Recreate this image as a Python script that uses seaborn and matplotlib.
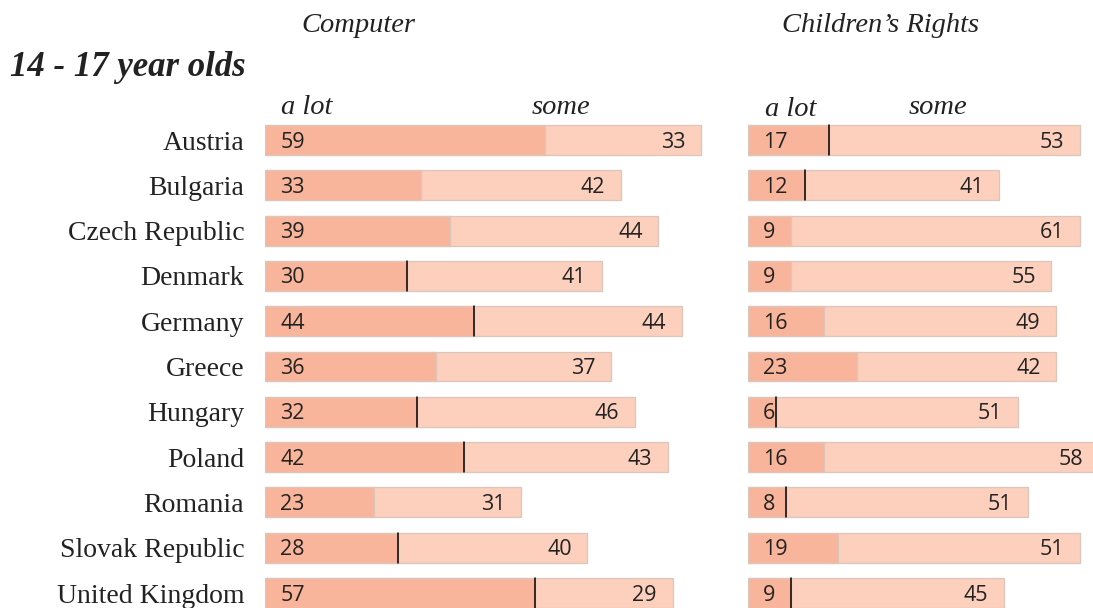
import seaborn as sns
import matplotlib.pyplot as plt
import pandas as pd

countries = ["Austria", "Bulgaria", "Czech Republic", "Denmark", "Germany", "Greece",
             "Hungary", "Poland", "Romania", "Slovak Republic", "United Kingdom"]
computer_alot = [59, 33, 39, 30, 44, 36, 32, 42, 23, 28, 57]
computer_some = [33, 42, 44, 41, 44, 37, 46, 43, 31, 40, 29]
rights_alot = [17, 12, 9, 9, 16, 23, 6, 16, 8, 19, 9]
rights_some = [53, 41, 61, 55, 49, 42, 51, 58, 51, 51, 45]

# rows where the source draws a black divider between the two segments
computer_black_div = ["Denmark", "Germany", "Hungary", "Poland", "Slovak Republic", "United Kingdom"]
rights_black_div = ["Austria", "Bulgaria", "Hungary", "Romania", "United Kingdom"]

DARK = "#F8B59B"
LIGHT = "#FCD0BD"
EDGE = "#DCC6BC"
W, H = 1093, 608
PX_PER_UNIT = 4.74

sns.set_style("white")
plt.rcParams["font.family"] = ["Liberation Serif", "DejaVu Serif"]

fig = plt.figure(figsize=(W / 100, H / 100), dpi=100)


def px_axes(x0, x1, y_top, y_bot):
    return fig.add_axes([x0 / W, 1 - y_bot / H, (x1 - x0) / W, (y_bot - y_top) / H])


def draw_panel(ax, alot, some, black_div, show_labels):
    df = pd.DataFrame({"country": countries, "alot": alot,
                       "total": [a + s for a, s in zip(alot, some)]})
    sns.barplot(data=df, x="total", y="country", color=LIGHT, saturation=1,
                width=0.66, edgecolor=EDGE, linewidth=0.9, ax=ax)
    sns.barplot(data=df, x="alot", y="country", color=DARK, saturation=1,
                width=0.66, edgecolor=EDGE, linewidth=0.9, ax=ax)
    for i, (c, a, s) in enumerate(zip(countries, alot, some)):
        if c in black_div:
            ax.plot([a, a], [i - 0.33, i + 0.33], color="black", lw=1.1)
        ax.text(3.2, i - 0.01, str(a), ha="left", va="center_baseline", fontsize=15.5,
                family="Open Sans", color="#222222")
        ax.text(a + s - 3.3, i - 0.01, str(s), ha="right", va="center_baseline",
                fontsize=15.5, family="Open Sans", color="#222222")
    ax.set_ylim(10.33, -0.508)
    ax.set_xlabel("")
    ax.set_ylabel("")
    ax.set_xticks([])
    ax.tick_params(axis="y", length=0, pad=15)
    if show_labels:
        ax.set_yticks(range(len(countries)))
        ax.set_yticklabels(countries, fontsize=20, color="#222222")
    else:
        ax.set_yticks([])
    sns.despine(ax=ax, left=True, bottom=True)


ax1 = px_axes(265, 725, 117, 608)
ax1.set_xlim(0, 460 / PX_PER_UNIT)
draw_panel(ax1, computer_alot, computer_some, computer_black_div, True)

ax2 = px_axes(748, 1093, 117, 608)
ax2.set_xlim(0, 345 / PX_PER_UNIT)
draw_panel(ax2, rights_alot, rights_some, rights_black_div, False)


def px_text(x, y, s, **kw):
    fig.text(x / W, 1 - y / H, s, va="center", color="#222222", **kw)


px_text(10, 67, "14 - 17 year olds", ha="left", fontsize=25,
        fontweight="bold", fontstyle="italic")
px_text(358, 25, "Computer", ha="center", fontsize=20.5, fontstyle="italic")
px_text(881, 25, "Children\u2019s Rights", ha="center", fontsize=20.5, fontstyle="italic")
px_text(307, 107, "a lot", ha="center", fontsize=20.5, fontstyle="italic")
px_text(561, 107, "some", ha="center", fontsize=20.5, fontstyle="italic")
px_text(791, 109, "a lot", ha="center", fontsize=20.5, fontstyle="italic")
px_text(938, 107, "some", ha="center", fontsize=20.5, fontstyle="italic")

fig.savefig("out.png", dpi=100, facecolor="white")
